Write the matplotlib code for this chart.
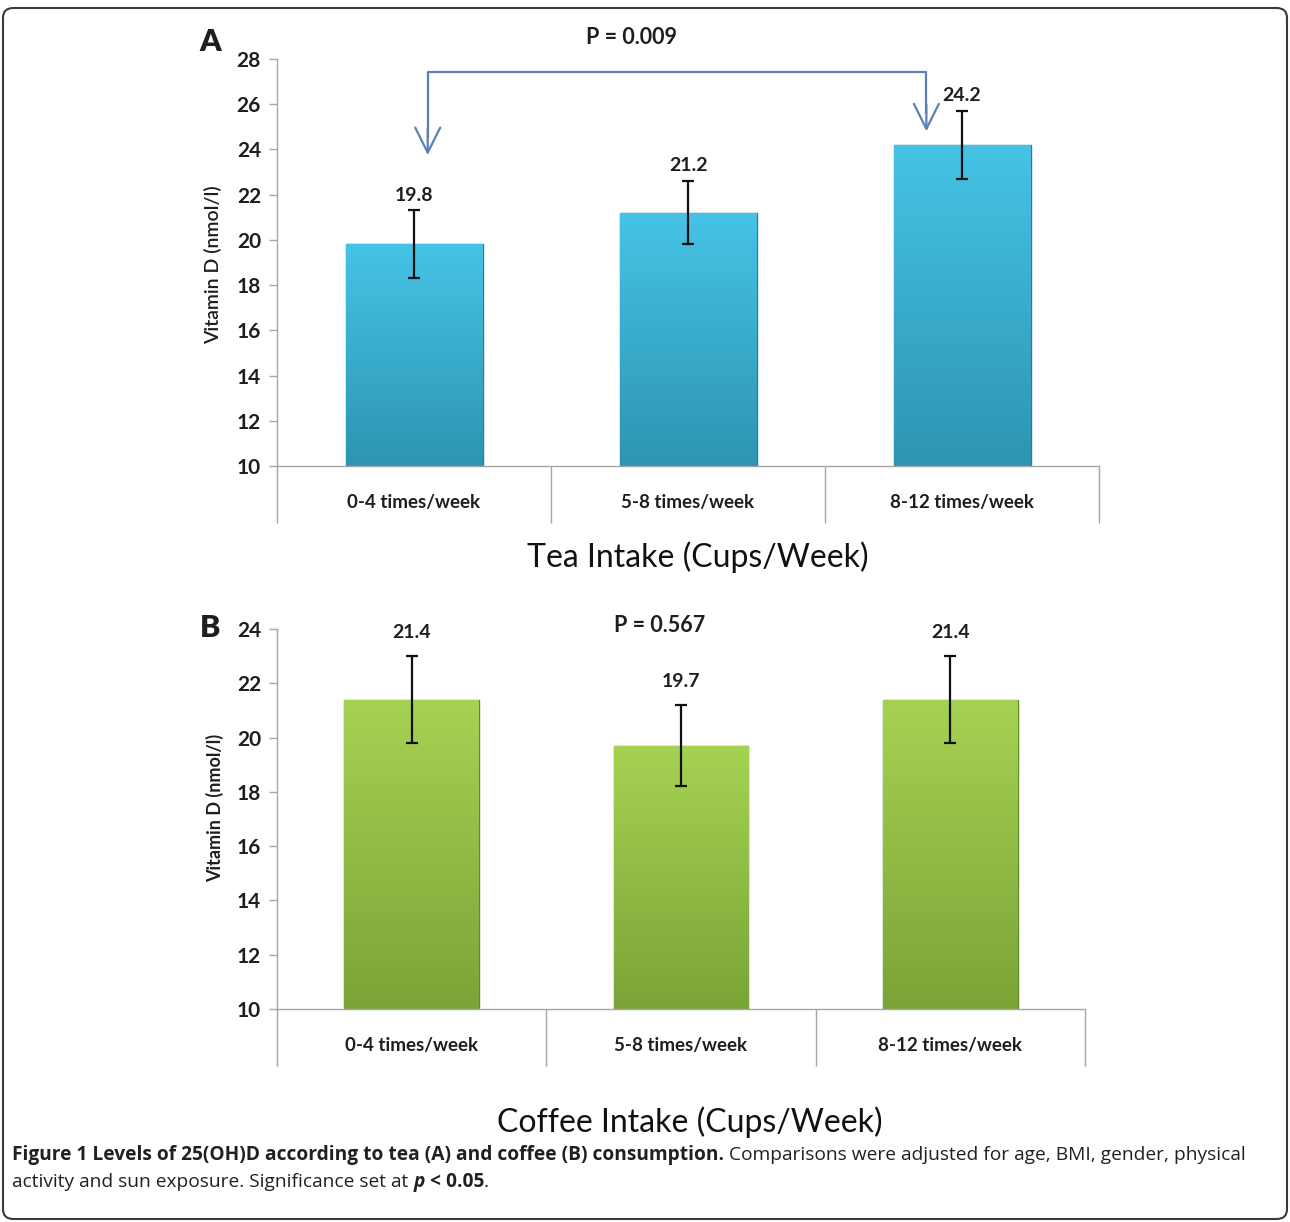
import numpy as np
import matplotlib
matplotlib.use("Agg")
import matplotlib.pyplot as plt
from matplotlib.patches import FancyBboxPatch
from matplotlib.colors import LinearSegmentedColormap

# data
categories = ["0-4 times/week", "5-8 times/week", "8-12 times/week"]
tea_means = [19.8, 21.2, 24.2]
tea_err = [1.5, 1.4, 1.5]
coffee_means = [21.4, 19.7, 21.4]
coffee_err = [1.6, 1.5, 1.6]
tea_yticks = [10, 12, 14, 16, 18, 20, 22, 24, 26, 28]
coffee_yticks = [10, 12, 14, 16, 18, 20, 22, 24]
tea_p = "P = 0.009"
coffee_p = "P = 0.567"
ylabel = "Vitamin D (nmol/l)"

W, H = 1290, 1222
FONT = ["Lato", "DejaVu Sans"]
CAP_FONT = ["Open Sans", "DejaVu Sans"]
TXT = "#1e1e1e"
GRID = "#a6a6a6"

fig = plt.figure(figsize=(W / 100, H / 100), dpi=100)


def px_axes(left, top, right, bottom):
    return fig.add_axes([left / W, 1 - bottom / H, (right - left) / W, (bottom - top) / H])


def gradient_bar(ax, bar, top_color, bottom_color):
    x0, y0 = bar.get_x(), bar.get_y()
    w, h = bar.get_width(), bar.get_height()
    grad = np.linspace(0, 1, 256).reshape(-1, 1)
    cmap = LinearSegmentedColormap.from_list("g", [top_color, bottom_color])
    im = ax.imshow(grad, cmap=cmap, extent=(x0, x0 + w, y0, y0 + h),
                   origin="upper", aspect="auto", zorder=2)
    im.set_clip_path(bar)


def draw_panel(ax, means, errs, yticks, top_color, bottom_color, edge, label_off):
    base = yticks[0]
    x = np.arange(len(categories))
    bars = ax.bar(x, np.array(means) - base, bottom=base, width=0.5,
                  color=bottom_color, edgecolor=edge, linewidth=1.0, zorder=2)
    for b in bars:
        gradient_bar(ax, b, top_color, bottom_color)
    ax.errorbar(x, means, yerr=errs, fmt="none", ecolor="#111111",
                elinewidth=1.6, capsize=4, capthick=1.6, zorder=4)
    for xi, m, e in zip(x, means, errs):
        ax.annotate(f"{m:.1f}", (xi, m + e), xytext=(0, label_off),
                    textcoords="offset points", ha="center", va="bottom",
                    fontsize=14, fontweight="bold", family=FONT, color=TXT)
    ax.set_xlim(-0.5, len(categories) - 0.5)
    ax.set_ylim(yticks[0], yticks[-1])
    ax.set_yticks(yticks)
    ax.set_yticklabels([str(t) for t in yticks], fontsize=15,
                       fontweight="bold", family=FONT, color=TXT)
    ax.tick_params(axis="y", length=5.5, width=1, color=GRID, pad=6)
    ax.set_xticks(x)
    ax.set_xticklabels(categories, fontsize=13.5, fontweight="bold",
                       family=FONT, color=TXT)
    ax.set_xticks(np.arange(len(categories) + 1) - 0.5, minor=True)
    ax.tick_params(axis="x", which="major", length=0, pad=20)
    ax.tick_params(axis="x", which="minor", length=41, width=1, color=GRID)
    for s in ["top", "right"]:
        ax.spines[s].set_visible(False)
    for s in ["left", "bottom"]:
        ax.spines[s].set_color(GRID)
        ax.spines[s].set_linewidth(1)


# panel A - tea
axA = px_axes(277, 59, 1099, 466)
draw_panel(axA, tea_means, tea_err, tea_yticks, "#46c3e6", "#2d95b1", "#2a7c94", 5)

# significance bracket
arrow_col = "#5b7fb8"
bx = [0.05, 1.87]
btop = 27.42
btip = [23.75, 24.8]
axA.plot([bx[0], bx[0], bx[1], bx[1]], [btip[0] + 0.8, btop, btop, btip[1] + 0.8],
         color=arrow_col, lw=1.6, zorder=3)
for xb, yt in zip(bx, btip):
    axA.annotate("", xy=(xb, yt), xytext=(xb, yt + 1.2),
                 arrowprops=dict(arrowstyle="->,head_length=0.9,head_width=0.45",
                                 color=arrow_col, lw=1.6, mutation_scale=20,
                                 shrinkA=0, shrinkB=0))

# panel B - coffee
axB = px_axes(277, 629, 1085, 1009)
draw_panel(axB, coffee_means, coffee_err, coffee_yticks, "#a6d253", "#7ba437", "#5f8a2a", 11)

# panel letters, p-values, axis titles
fig.text(210 / W, 1 - 42 / H, "A", fontsize=22, fontweight="heavy", family=FONT,
         ha="center", va="center", color=TXT)
fig.text(210 / W, 1 - 628 / H, "B", fontsize=22, fontweight="heavy", family=FONT,
         ha="center", va="center", color=TXT)
fig.text(632 / W, 1 - 38 / H, tea_p, fontsize=15.5, fontweight="bold", family=FONT,
         ha="center", va="center", color=TXT)
fig.text(660 / W, 1 - 626 / H, coffee_p, fontsize=15.5, fontweight="bold", family=FONT,
         ha="center", va="center", color=TXT)
fig.text(213 / W, 1 - 265 / H, ylabel, fontsize=14, fontweight="semibold", family=FONT,
         rotation=90, ha="center", va="center", color=TXT)
fig.text(215 / W, 1 - 808 / H, ylabel, fontsize=13, fontweight="bold", family=FONT,
         rotation=90, ha="center", va="center", color=TXT)
fig.text(698 / W, 1 - 557 / H, "Tea Intake (Cups/Week)", fontsize=23, family=FONT,
         ha="center", va="center", color="#111111")
fig.text(690 / W, 1 - 1122 / H, "Coffee Intake (Cups/Week)", fontsize=23, family=FONT,
         ha="center", va="center", color="#111111")

# caption with mixed weights
renderer = fig.canvas.get_renderer()


def caption_run(parts, x_px, y_px):
    x = x_px
    for txt, weight, style in parts:
        t = fig.text(x / W, 1 - y_px / H, txt, fontsize=13.8, fontweight=weight,
                     fontstyle=style, family=CAP_FONT, ha="left", va="center",
                     color="#231f20")
        bb = t.get_window_extent(renderer)
        x = bb.x1


caption_run([("Figure 1 Levels of 25(OH)D according to tea (A) and coffee (B) consumption.",
              "bold", "normal"),
             (" Comparisons were adjusted for age, BMI, gender, physical", "normal", "normal")],
            12, 1155)
caption_run([("activity and sun exposure. Significance set at ", "normal", "normal"),
             ("p", "bold", "italic"),
             (" < 0.05", "bold", "normal"),
             (".", "normal", "normal")],
            12, 1182)

# rounded frame around the figure
frame = FancyBboxPatch((3 / W, 1 - 1219 / H), 1284 / W, 1211 / H,
                       boxstyle="round,pad=0,rounding_size=0.008",
                       transform=fig.transFigure, fill=False,
                       edgecolor="#3a3a3a", linewidth=1.5)
fig.patches.append(frame)

fig.savefig("out.png", dpi=100)
